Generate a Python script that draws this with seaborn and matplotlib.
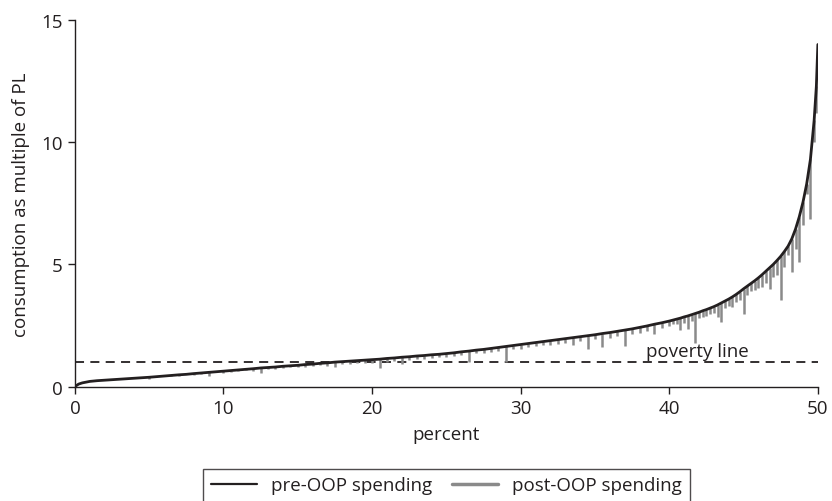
import numpy as np
import pandas as pd
import matplotlib.pyplot as plt
import seaborn as sns
from matplotlib.lines import Line2D

# percentile of households (sorted by pre-OOP consumption)
pct = [0, 0.25, 0.5, 1, 1.5, 2, 2.5, 3, 3.5, 4, 4.5, 5, 5.5, 6, 6.5, 7, 7.5, 8, 8.5, 9, 9.5,
       10, 10.5, 11, 11.5, 12, 12.5, 13, 13.5, 14, 14.5, 15, 15.5, 16, 16.5, 17, 17.5, 18, 18.5, 19, 19.5,
       20, 20.5, 21, 21.5, 22, 22.5, 23, 23.5, 24, 24.5, 25, 25.5, 26, 26.5, 27, 27.5, 28, 28.5, 29, 29.5,
       30, 30.5, 31, 31.5, 32, 32.5, 33, 33.5, 34, 34.5, 35, 35.5, 36, 36.5, 37, 37.5, 38, 38.5, 39, 39.5,
       40, 40.25, 40.5, 40.75, 41, 41.25, 41.5, 41.75, 42, 42.25, 42.5, 42.75, 43, 43.25, 43.5, 43.75,
       44, 44.25, 44.5, 44.75, 45, 45.25, 45.5, 45.75, 46, 46.25, 46.5, 46.75, 47, 47.25, 47.5, 47.75,
       48, 48.25, 48.5, 48.75, 49, 49.25, 49.5, 49.75, 49.9, 50]

# consumption before out-of-pocket health spending (multiple of poverty line)
pre_oop = [0.00, 0.10, 0.15, 0.21, 0.24, 0.26, 0.28, 0.30, 0.32, 0.34, 0.36, 0.38, 0.405, 0.43, 0.455, 0.48, 0.50, 0.53, 0.555, 0.58, 0.605,
           0.63, 0.655, 0.68, 0.705, 0.73, 0.76, 0.78, 0.80, 0.83, 0.85, 0.87, 0.90, 0.92, 0.95, 0.97, 1.00, 1.02, 1.04, 1.06, 1.08,
           1.10, 1.12, 1.15, 1.17, 1.20, 1.22, 1.25, 1.27, 1.30, 1.32, 1.35, 1.38, 1.42, 1.45, 1.49, 1.52, 1.56, 1.60, 1.64, 1.68,
           1.72, 1.76, 1.80, 1.84, 1.88, 1.92, 1.96, 2.00, 2.04, 2.08, 2.12, 2.17, 2.21, 2.26, 2.31, 2.36, 2.42, 2.48, 2.55, 2.61,
           2.68, 2.72, 2.76, 2.80, 2.85, 2.89, 2.94, 2.99, 3.04, 3.10, 3.15, 3.21, 3.27, 3.34, 3.42, 3.50,
           3.58, 3.67, 3.77, 3.88, 4.00, 4.11, 4.22, 4.33, 4.45, 4.58, 4.72, 4.86, 5.00, 5.16, 5.33, 5.53,
           5.75, 6.05, 6.45, 6.95, 7.55, 8.30, 9.30, 10.90, 12.30, 14.00]

# consumption after out-of-pocket health spending
post_oop = [0.00, 0.10, 0.15, 0.21, 0.22, 0.26, 0.26, 0.30, 0.29, 0.34, 0.33, 0.32, 0.38, 0.43, 0.42, 0.45, 0.50, 0.49, 0.53, 0.45, 0.58,
            0.56, 0.60, 0.62, 0.66, 0.64, 0.55, 0.70, 0.72, 0.76, 0.78, 0.80, 0.82, 0.84, 0.88, 0.86, 0.78, 0.92, 0.92, 0.96, 0.98,
            0.98, 0.74, 1.02, 1.05, 0.93, 1.10, 1.12, 1.14, 1.18, 1.20, 1.22, 1.24, 1.28, 1.02, 1.36, 1.38, 1.42, 1.46, 1.02, 1.54,
            1.55, 1.62, 1.64, 1.70, 1.70, 1.76, 1.78, 1.72, 1.85, 1.55, 1.95, 1.62, 1.98, 2.06, 1.68, 2.16, 2.20, 2.26, 2.16, 2.40,
            2.46, 2.55, 2.58, 2.30, 2.62, 2.36, 2.70, 1.80, 2.80, 2.85, 2.90, 2.95, 3.00, 2.84, 2.64, 3.20,
            3.30, 3.25, 3.45, 3.55, 2.98, 3.75, 3.90, 3.95, 4.05, 4.07, 4.25, 4.00, 4.50, 4.55, 3.53, 4.90,
            5.37, 4.69, 5.64, 5.10, 6.60, 7.90, 6.87, 10.00, 11.20, 14.00]

poverty_line = 1.0
x_ticks = [0, 10, 20, 30, 40, 50]
y_ticks = [0, 5, 10, 15]

DARK = "#231f20"
GREY = "#8a8a8a"
FS = 13.5

df = pd.DataFrame(dict(pct=pct, pre=pre_oop, post=post_oop))

sns.set_theme(style="ticks")
plt.rcParams["font.family"] = ["Open Sans", "DejaVu Sans"]

fig = plt.figure(figsize=(8.32, 5.02), dpi=100)
ax = fig.add_axes([0.090, 0.228, 0.893, 0.730])

# post-OOP drops (grey), pre-OOP curve on top (black)
drops = df[df["post"] < df["pre"]]
ax.vlines(drops["pct"], drops["post"], drops["pre"], color=GREY, lw=1.8, zorder=2)
sns.lineplot(data=df, x="pct", y="pre", ax=ax, color=DARK, lw=2.0,
             estimator=None, sort=False, zorder=3)

ax.axhline(poverty_line, xmin=0, xmax=1, color=DARK, lw=1.3, ls=(0, (5, 3.5)), zorder=1)
ax.text(41.9, poverty_line + 0.1, "poverty line", ha="center", va="bottom",
        fontsize=FS, color=DARK)

ax.set_xlim(0, 50)
ax.set_ylim(0, 15)
ax.set_xticks(x_ticks)
ax.set_yticks(y_ticks)
ax.set_xlabel("percent", fontsize=FS, color=DARK, labelpad=6)
ax.set_ylabel("consumption as multiple of PL", fontsize=FS, color=DARK, labelpad=8)
ax.tick_params(axis="both", labelsize=FS, colors=DARK, length=5, width=1, pad=4)
for s in ["left", "bottom"]:
    ax.spines[s].set_color(DARK)
    ax.spines[s].set_linewidth(1)
sns.despine(ax=ax)

handles = [Line2D([], [], color=DARK, lw=1.6), Line2D([], [], color=GREY, lw=2.5)]
leg = fig.legend(handles, ["pre-OOP spending", "post-OOP spending"], loc="lower center",
                 bbox_to_anchor=(0.5365, -0.02), ncol=2, frameon=True, fancybox=False,
                 fontsize=FS, handlelength=2.45, handletextpad=0.75, columnspacing=1.1,
                 borderpad=0.4)
leg.get_frame().set_edgecolor(DARK)
leg.get_frame().set_linewidth(1)
for t in leg.get_texts():
    t.set_color(DARK)

fig.savefig("out.png", dpi=100)
